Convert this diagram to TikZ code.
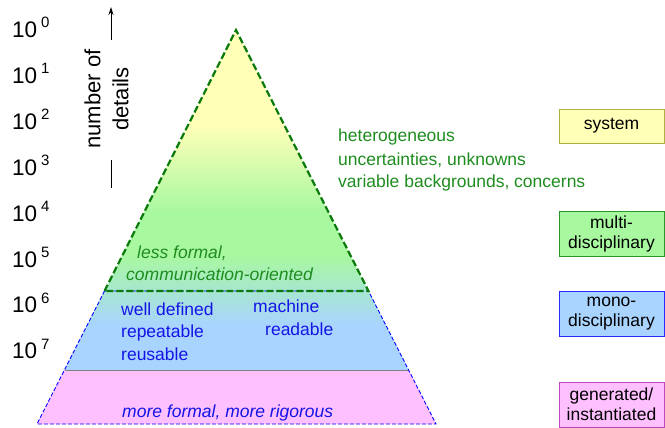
\documentclass[tikz,border=0pt]{standalone}
\usepackage{fontspec}
\setmainfont{Liberation Sans}
\usetikzlibrary{arrows.meta}

\definecolor{pyryel}{HTML}{FFFFB8}
\definecolor{pyrgrn}{HTML}{A8F8A0}
\definecolor{pyrcyan}{HTML}{A8E6D0}
\definecolor{pyrblue}{HTML}{A8D4FF}
\definecolor{pyrpink}{HTML}{FFC0FF}
\definecolor{txtgrn}{HTML}{1E8C1E}
\definecolor{txtblue}{HTML}{1414E6}
\definecolor{lnggrn}{HTML}{0A7A0A}

\newcommand{\tenexp}[1]{10\kern4pt\raisebox{9.5pt}{\fontsize{15}{15}\selectfont #1}}

\begin{document}
\begin{tikzpicture}[
    x=1pt, y=1pt,
    scalelbl/.style={anchor=base west, inner sep=0pt, font=\fontsize{22.5}{23}\selectfont},
    grntxt/.style={anchor=base west, inner sep=0pt, text=txtgrn, font=\fontsize{17.5}{21}\selectfont},
    grnit/.style={grntxt, font=\fontsize{17.5}{21}\selectfont\itshape},
    bluetxt/.style={anchor=base west, inner sep=0pt, text=txtblue, font=\fontsize{17.5}{21}\selectfont},
    blueit/.style={bluetxt, font=\fontsize{17.5}{21}\selectfont\itshape},
    levelbox/.style={draw, line width=0.9pt, minimum width=105pt, minimum height=45pt, align=center, inner sep=2pt, font=\fontsize{17.5}{20}\selectfont},
    grndash/.style={draw=lnggrn, line width=2.2pt, dash pattern=on 7pt off 3pt},
    bluedash/.style={draw=blue, line width=0.9pt, dash pattern=on 4pt off 2pt},
  ]
    \useasboundingbox (0,0) rectangle (665,-428);

    % pyramid corners
    \coordinate (apex) at (236,-30);
    \coordinate (gl) at (104.5,-291);
    \coordinate (gr) at (368.5,-291);
    \coordinate (pl) at (64.5,-370);
    \coordinate (pr) at (408.5,-370);
    \coordinate (bl) at (37,-424);
    \coordinate (br) at (436,-424);

    % === fills ===
    \begin{scope}
      \clip (apex) -- (gr) -- (gl) -- cycle;
      \fill[pyryel] (0,0) rectangle (665,-125);
      \shade[top color=pyryel, bottom color=pyrgrn] (0,-125) rectangle (665,-212);
      \fill[pyrgrn] (0,-212) rectangle (665,-255);
      \shade[top color=pyrgrn, bottom color=pyrcyan] (0,-255) rectangle (665,-292);
    \end{scope}
    \begin{scope}
      \clip (gl) -- (gr) -- (pr) -- (pl) -- cycle;
      \shade[top color=pyrcyan, bottom color=pyrblue] (0,-290) rectangle (665,-325);
      \fill[pyrblue] (0,-325) rectangle (665,-371);
    \end{scope}
    \fill[pyrpink] (pl) -- (pr) -- (br) -- (bl) -- cycle;
    \draw[gray, line width=0.6pt] (pl) -- (pr);

    % === outlines ===
    \draw[bluedash] (gl) -- (bl) -- (br) -- (gr) -- cycle;
    \draw[grndash] (gl) -- (apex) -- (gr) -- cycle;

    % === scale on the left ===
    \foreach \e in {0,...,7} {
      \node[scalelbl] (pow\e) at (12, -37.5-45.9*\e) {\tenexp{\e}};
    }

    % number of details
    \node[rotate=90, align=center, inner sep=0pt, font=\fontsize{22}{28}\selectfont] (ndet) at (106.5,-99) {number of\\details};
    \coordinate (arrtop) at (111,-7);
    \coordinate (arrlow) at (111,-40);
    \coordinate (barup) at (111,-160);
    \coordinate (barlow) at (111,-188);
    \draw[line width=0.9pt, -{Stealth[length=8pt, width=5pt]}] (arrlow) -- (arrtop);
    \draw[line width=0.9pt] (barlow) -- (barup);

    % === texts in and beside the pyramid ===
    \node[grntxt] (het) at (338,-142) {heterogeneous};
    \node[grntxt] (unc) at (338,-165) {uncertainties, unknowns};
    \node[grntxt] (var) at (338,-187.5) {variable backgrounds, concerns};

    \node[grnit] (lessf) at (137,-258) {less formal,};
    \node[grnit] (comm) at (126,-280) {communication-oriented};

    \node[bluetxt] (welld) at (121,-315) {well defined};
    \node[bluetxt] (rept) at (121,-337.5) {repeatable};
    \node[bluetxt] (reus) at (121,-360) {reusable};
    \node[bluetxt] (mach) at (253,-312) {machine};
    \node[bluetxt] (read) at (265,-335) {readable};

    \node[blueit] (moref) at (122,-417) {more formal, more rigorous};

    % === levels on the right ===
    \node[levelbox, minimum height=34pt, fill=pyryel, draw={rgb,255:red,176;green,176;blue,64}] (system) at (611.5,-126) {system};
    \node[levelbox, fill=pyrgrn, draw={rgb,255:red,40;green,150;blue,40}] (multi) at (611.5,-234) {multi-\\disciplinary};
    \node[levelbox, fill=pyrblue, draw={rgb,255:red,40;green,40;blue,255}] (mono) at (611.5,-313.5) {mono-\\disciplinary};
    \node[levelbox, fill=pyrpink, draw={rgb,255:red,190;green,70;blue,190}] (gener) at (611.5,-404.5) {generated/\\instantiated};
\end{tikzpicture}
\end{document}
